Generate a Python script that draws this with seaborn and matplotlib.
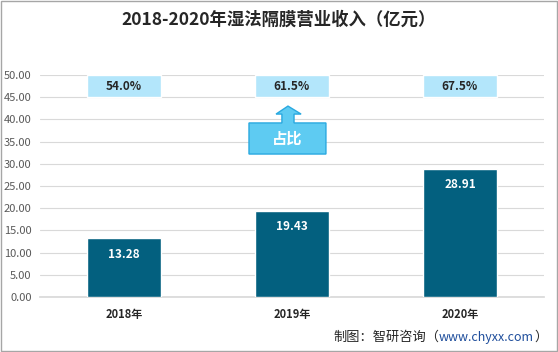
import numpy as np
import pandas as pd
import matplotlib
matplotlib.use("Agg")
import matplotlib.pyplot as plt
from matplotlib.patches import Polygon, Rectangle
import seaborn as sns

years = ["2018年", "2019年", "2020年"]
revenue = [13.28, 19.43, 28.91]
share = ["54.0%", "61.5%", "67.5%"]

sns.set_theme(style="white")
plt.rcParams['font.family'] = ['Noto Sans CJK SC', 'DejaVu Sans']

fig = plt.figure(figsize=(5.58, 3.52), dpi=100)
ax = fig.add_axes([40 / 558, 55 / 352, 504 / 558, 222 / 352])

df = pd.DataFrame({"year": years, "revenue": revenue})
sns.barplot(data=df, x="year", y="revenue", color="#03607f", width=0.446,
            saturation=1, ax=ax, zorder=3)

# share boxes on top band
x = np.arange(len(years))
ax.bar(x, 5, bottom=45, width=0.446, color="#b3e6fb", zorder=3)
for i, s in enumerate(share):
    ax.text(i, 47.5, s, ha="center", va="center", fontsize=8.5, fontweight="bold",
            color="#262626", zorder=4)

for i, v in enumerate(revenue):
    ax.text(i, v - 3.6, f"{v:.2f}", ha="center", va="center", fontsize=8.5,
            fontweight="bold", color="white", zorder=4)

# callout arrow "占比"
pts = [(0.744, 39.2), (0.94, 39.2), (0.94, 41.2), (0.905, 41.2), (0.976, 43.0),
       (1.054, 41.2), (1.012, 41.2), (1.012, 39.2), (1.202, 39.2),
       (1.202, 32.2), (0.744, 32.2)]
ax.add_patch(Polygon(pts, closed=True, facecolor="#5ecbf2", edgecolor="#2aa9e0",
                     linewidth=1, zorder=5))
ax.text(0.973, 35.7, "占比", ha="center", va="center", fontsize=11,
        fontweight="bold", color="white", zorder=6)

ax.set_ylim(0, 50)
ax.set_xlim(-0.5, 2.5)
ax.set_yticks(np.arange(0, 51, 5))
ax.set_yticklabels([f"{t:.2f}" for t in np.arange(0, 51, 5)])
ax.yaxis.grid(True, color="#d9d9d9", linewidth=0.8, zorder=0)
ax.set_axisbelow(True)
for sp in ["top", "right", "left"]:
    ax.spines[sp].set_visible(False)
ax.spines["bottom"].set_color("#d9d9d9")
ax.tick_params(axis="y", labelsize=8, labelcolor="#595959", length=0, pad=6)
ax.tick_params(axis="x", labelsize=8, labelcolor="#262626", length=0, pad=8)
for lbl in ax.get_xticklabels():
    lbl.set_fontweight("bold")
ax.set_xlabel("")
ax.set_ylabel("")

fig.text(0.5, 1 - 20 / 352, "2018-2020年湿法隔膜营业收入（亿元）", ha="center",
         va="center", fontsize=12.5, fontweight="bold", color="#262626")

# source line, chained pieces
t1 = fig.text(333 / 558, 1 - 337 / 352, "制图：智研咨询（", ha="left", va="center",
              fontsize=9.5, color="#262626")
a2 = ax.annotate("www.chyxx.com", xy=(1, 0.5), xycoords=t1, ha="left", va="center",
                 fontsize=9, color="#1f4e9c", annotation_clip=False)
ax.annotate("）", xy=(1, 0.5), xycoords=a2, ha="left", va="center",
            fontsize=9.5, color="#262626", annotation_clip=False)

fig.patches.append(Rectangle((0.001, 0.002), 0.997, 0.995, transform=fig.transFigure,
                             fill=False, edgecolor="#a6a6a6", linewidth=1))

fig.savefig("out.png", dpi=100)
